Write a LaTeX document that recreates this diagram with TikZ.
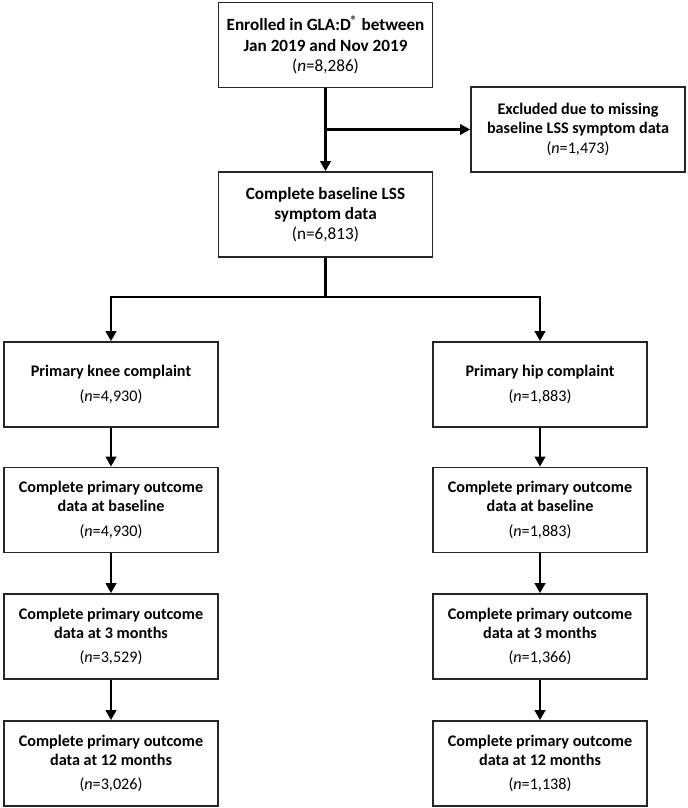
\documentclass[tikz,border=0pt]{standalone}
\usepackage{fontspec}
\setmainfont{Carlito}
\usepackage{xcolor}
\usepackage{tikz}
\usetikzlibrary{arrows.meta}

\tikzset{
  box/.style={draw=black!85, line width=1.2pt, align=center, inner sep=2pt,
    minimum width=5.35cm, minimum height=2.125cm, font=\fontsize{11.5}{13.5}\selectfont},
  bigbox/.style={box, font=\fontsize{12.2}{14.3}\selectfont},
  link/.style={line width=2pt, -{Triangle[length=0.25cm,width=0.26cm]}},
  trunk/.style={line width=2pt}
}

\begin{document}
\begin{tikzpicture}[x=0.025cm,y=-0.025cm]
    \useasboundingbox (0,0) rectangle (688,808);

    % enrolment
    \node[bigbox] (enrol) at (325.5,45) {\textbf{Enrolled in GLA:D\textsuperscript{®} between}\\\textbf{Jan 2019 and Nov 2019}\\(\textit{n}=8,286)};
    \node[box] (excl) at (578,129.5) {\textbf{Excluded due to missing}\\\textbf{baseline LSS symptom data}\\[1pt](\textit{n}=1,473)};
    \node[bigbox] (base) at (325.5,214.5) {\textbf{Complete baseline LSS}\\\textbf{symptom data}\\(n=6,813)};

    % knee
    \node[box] (knee) at (111,384.5) {\textbf{Primary knee complaint}\\[4pt](\textit{n}=4,930)};
    \node[box] (kneeB) at (111,510) {\textbf{Complete primary outcome}\\\textbf{data at baseline}\\[4pt](\textit{n}=4,930)};
    \node[box] (kneeT) at (111,636.5) {\textbf{Complete primary outcome}\\\textbf{data at 3 months}\\[4pt](\textit{n}=3,529)};
    \node[box] (kneeY) at (111,763.5) {\textbf{Complete primary outcome}\\\textbf{data at 12 months}\\[4pt](\textit{n}=3,026)};

    % hip
    \node[box] (hip) at (540,384.5) {\textbf{Primary hip complaint}\\[4pt](\textit{n}=1,883)};
    \node[box] (hipB) at (540,510) {\textbf{Complete primary outcome}\\\textbf{data at baseline}\\[4pt](\textit{n}=1,883)};
    \node[box] (hipT) at (540,636.5) {\textbf{Complete primary outcome}\\\textbf{data at 3 months}\\[4pt](\textit{n}=1,366)};
    \node[box] (hipY) at (540,763.5) {\textbf{Complete primary outcome}\\\textbf{data at 12 months}\\[4pt](\textit{n}=1,138)};

    % arrows
    \coordinate (split) at (325.5,129.5);
    \coordinate (fork) at (325.5,297);
    \draw[link] (enrol) -- (base);
    \draw[link] (split) -- (excl);
    \draw[trunk] (base) -- (fork);
    \draw[link] (fork) -| (knee);
    \draw[link] (fork) -| (hip);

    \foreach \a/\b in {knee/kneeB,kneeB/kneeT,kneeT/kneeY,hip/hipB,hipB/hipT,hipT/hipY}
        \draw[link] (\a) -- (\b);
\end{tikzpicture}
\end{document}
